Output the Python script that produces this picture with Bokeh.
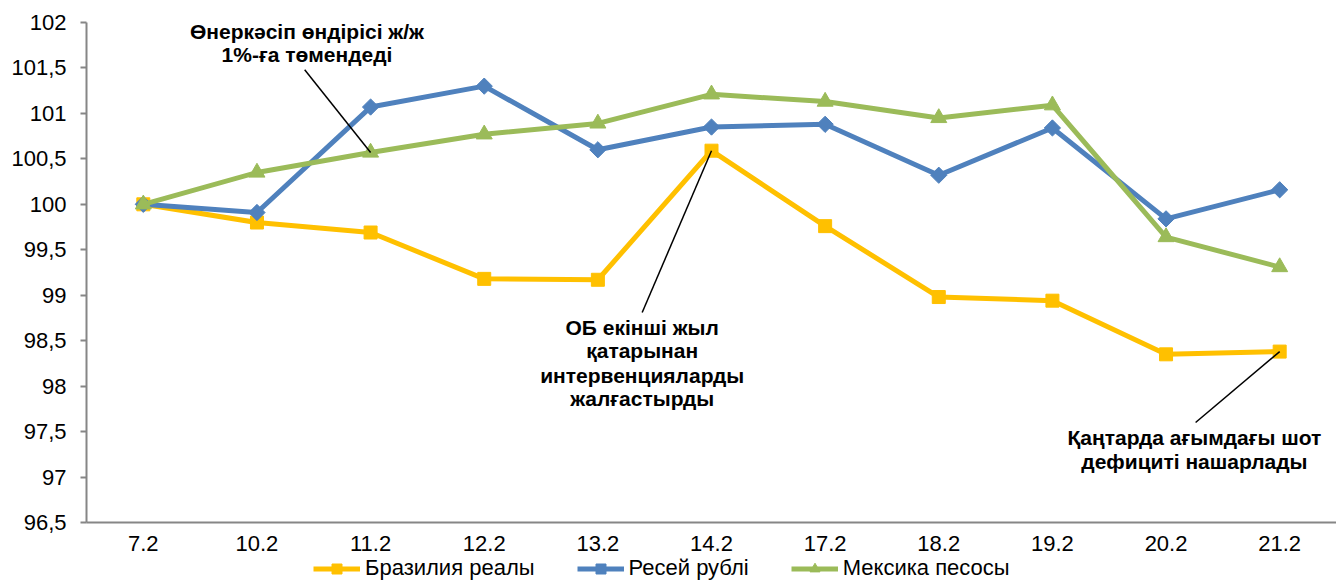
import math
from bokeh.plotting import figure
from bokeh.layouts import column
from bokeh.models import Range1d, FixedTicker, Legend, LegendItem, ColumnDataSource
from bokeh.core.properties import value
from bokeh.embed import file_html
from bokeh.resources import INLINE

# ---- data ----
categories = ["7.2", "10.2", "11.2", "12.2", "13.2", "14.2", "17.2", "18.2", "19.2", "20.2", "21.2"]
brazil = [100.0, 99.80, 99.69, 99.18, 99.17, 100.59, 99.76, 98.98, 98.94, 98.35, 98.38]
russia = [100.0, 99.91, 101.07, 101.30, 100.60, 100.85, 100.88, 100.32, 100.84, 99.84, 100.16]
mexico = [100.0, 100.35, 100.57, 100.77, 100.89, 101.21, 101.13, 100.95, 101.09, 99.64, 99.31]
series_names = ["Бразилия реалы", "Ресей рублі", "Мексика песосы"]
y_ticks = [96.5, 97, 97.5, 98, 98.5, 99, 99.5, 100, 100.5, 101, 101.5, 102]
y_tick_labels = ["96,5", "97", "97,5", "98", "98,5", "99", "99,5", "100", "100,5", "101", "101,5", "102"]

# annotations
ann1_lines = ["Өнеркәсіп өндірісі ж/ж", "1%-ға төмендеді"]
ann2_lines = ["ОБ екінші жыл", "қатарынан", "интервенцияларды", "жалғастырды"]
ann3_lines = ["Қаңтарда ағымдағы шот", "дефициті нашарлады"]

FONT = "Liberation Sans"
YELLOW = "#FFC000"
BLUE = "#4F81BD"
GREEN = "#9BBB59"
AXIS = "#868686"

xs = list(range(len(categories)))

p = figure(width=1336, height=555, output_backend="svg", toolbar_location=None,
           x_range=Range1d(-0.5, len(categories) - 0.5), y_range=Range1d(96.5, 102),
           min_border_left=86, min_border_right=0, min_border_top=22, min_border_bottom=33)
p.outline_line_color = None
p.xgrid.visible = False
p.ygrid.visible = False
p.background_fill_color = "white"

# axes
p.yaxis.ticker = FixedTicker(ticks=y_ticks)
p.yaxis.major_label_overrides = {t: l for t, l in zip(y_ticks, y_tick_labels)}
p.yaxis.minor_tick_line_color = None
p.yaxis.major_tick_out = 6
p.yaxis.major_tick_in = 0
p.yaxis.major_label_standoff = 14

p.xaxis.ticker = FixedTicker(ticks=xs, minor_ticks=[i - 0.5 for i in range(len(categories) + 1)])
p.xaxis.major_label_overrides = {i: c for i, c in enumerate(categories)}
p.xaxis.major_tick_out = 0
p.xaxis.major_tick_in = 0
p.xaxis.minor_tick_out = 6
p.xaxis.minor_tick_in = 0
p.xaxis.major_label_standoff = 7

for ax in (p.xaxis, p.yaxis):
    ax.axis_line_color = AXIS
    ax.axis_line_width = 2
    ax.major_tick_line_color = AXIS
    ax.major_tick_line_width = 2
    ax.minor_tick_line_color = AXIS if ax is p.xaxis else None
    ax.minor_tick_line_width = 2
    ax.major_label_text_font = FONT
    ax.major_label_text_font_size = "22px"
    ax.major_label_text_color = "#000000"

# series
series = [(brazil, YELLOW, dict(marker="square", size=13)),
          (russia, BLUE, dict(marker="square", angle=math.pi / 4, size=11.5)),
          (mexico, GREEN, dict(marker="triangle", size=16))]
for vals, col, mk in series:
    p.line(xs, vals, line_color=col, line_width=5, line_join="round")
    p.scatter(xs, vals, fill_color=col, line_color=col, **mk)

# annotation leader lines
p.segment(x0=[1.42, 4.39, 9.26], y0=[101.48, 98.81, 97.60],
          x1=[2, 5, 10], y1=[mexico[2], brazil[5], brazil[10]],
          line_color="black", line_width=1.5)

# annotation texts
ann_x = [1.44] * 2 + [4.39] * 4 + [9.25] * 2
ann_y = [101.90, 101.65, 98.64, 98.39, 98.12, 97.86, 97.43, 97.17]
ann_src = ColumnDataSource(dict(x=ann_x, y=ann_y, t=ann1_lines + ann2_lines + ann3_lines))
p.text(x="x", y="y", text="t", source=ann_src, text_font=value(FONT), text_font_style="bold",
       text_font_size="21px", text_align="center", text_baseline="middle", text_color="#000000")

# ---- legend strip below the chart ----
p2 = figure(width=1336, height=26, output_backend="svg", toolbar_location=None,
            x_range=Range1d(0, 1), y_range=Range1d(0, 1),
            min_border_left=0, min_border_right=0, min_border_top=0, min_border_bottom=0)
p2.axis.visible = False
p2.xgrid.visible = False
p2.ygrid.visible = False
p2.outline_line_color = None
items = []
for name, (vals, col, mk) in zip(series_names, series):
    # legend-only renderers placed outside the visible range of the strip
    lr = p2.line([-5, -4], [vals[0], vals[0]], line_color=col, line_width=5)
    sr = p2.scatter([-5], [vals[0]], fill_color=col, line_color=col,
                    **{k: v for k, v in mk.items() if k != "size"})
    items.append(LegendItem(label=name, renderers=[lr, sr]))

legend = Legend(items=items, orientation="horizontal", location=(227, 0), padding=0, margin=0,
                spacing=42, glyph_width=47, glyph_height=25, label_height=20, label_standoff=5,
                label_text_font=FONT, label_text_font_size="22px", label_text_color="#000000",
                border_line_color=None, background_fill_alpha=0)
p2.add_layout(legend, "center")

layout = column(p, p2, spacing=0)
open("out.html", "w").write(file_html(layout, INLINE))
